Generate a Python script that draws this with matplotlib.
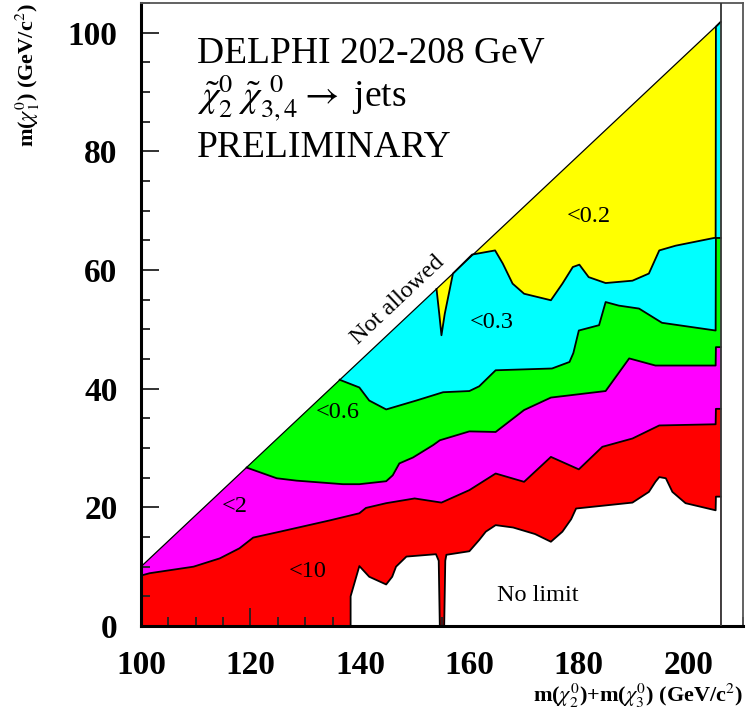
import matplotlib
matplotlib.use("Agg")
import matplotlib.pyplot as plt
from matplotlib.ticker import MultipleLocator
import numpy as np

plt.rcParams['font.family'] = ['Liberation Serif', 'DejaVu Serif']
plt.rcParams['mathtext.fontset'] = 'stix'

# kinematic limit (diagonal) and right edge of the scan
diag_x = [100.0, 205.9]
diag_y = [10.0, 101.8]
x_edge = 205.9

# upper boundaries of each cross-section band (pb)
red_x = [100.0, 101.6, 109.6, 114.4, 118.0, 120.5, 125.4, 134.5, 139.9, 141.1, 144.8,
         150.0, 154.9, 160.0, 164.8, 170.0, 174.9, 180.0, 184.3, 189.8, 194.7, 205.0,
         205.05, 205.9]
red_y = [8.5, 8.9, 10.0, 11.4, 13.1, 14.9, 15.9, 17.8, 19.0, 19.9, 20.7,
         21.5, 20.8, 22.9, 25.7, 24.3, 28.5, 26.4, 30.2, 31.6, 33.8, 34.0,
         36.6, 36.6]

mag_x = [119.3, 124.8, 128.4, 136.9, 139.9, 144.8, 146.0, 147.2, 149.7, 153.4, 154.6,
         160.0, 164.8, 170.0, 174.9, 184.9, 189.2, 194.0, 205.0, 205.05, 205.9]
mag_y = [26.7, 24.9, 24.5, 23.9, 23.9, 24.4, 25.4, 27.4, 28.4, 30.5, 31.3,
         32.8, 32.7, 36.4, 38.5, 39.6, 45.1, 43.9, 43.9, 47.0, 47.0]

green_x = [136.3, 139.9, 141.7, 144.8, 150.3, 155.2, 160.0, 161.8, 164.8, 175.1, 178.3,
           179.0, 180.0, 183.7, 184.9, 187.3, 191.0, 195.2, 205.0, 205.05, 205.9]
green_y = [41.5, 40.2, 38.0, 36.5, 38.0, 39.4, 39.6, 40.4, 43.1, 43.4, 44.5,
           46.0, 49.8, 50.7, 54.6, 54.0, 53.5, 51.1, 49.8, 65.4, 65.4]

cyan_x = [154.0, 154.5, 154.9, 155.5, 157.0, 160.5, 164.7, 166.1, 167.9, 170.0, 174.9,
          177.0, 178.9, 180.1, 181.8, 184.9, 189.8, 192.8, 194.7, 197.7, 204.7, 205.0,
          205.05, 205.9]
cyan_y = [56.8, 52.6, 49.0, 52.6, 59.4, 62.6, 63.3, 61.1, 57.7, 56.0, 54.9,
          57.7, 60.5, 60.9, 58.8, 57.8, 58.2, 59.4, 63.3, 64.1, 65.4, 65.4,
          101.0, 101.8]

# "No limit" region (top boundary, with the thin spike at ~155)
white_x = [138.3, 138.3, 139.9, 141.7, 144.8, 145.9, 146.6, 148.5, 153.9, 154.4, 154.6,
           155.4, 155.6, 155.8, 160.0, 161.8, 163.0, 164.8, 168.0, 172.0, 174.9, 177.0,
           178.6, 179.5, 189.8, 192.8, 194.0, 194.7, 195.9, 197.1, 199.5, 205.0, 205.05,
           205.9]
white_y = [0.0, 5.0, 10.1, 8.3, 7.0, 8.3, 10.0, 11.7, 12.1, 11.0, 0.0,
           0.0, 11.0, 12.0, 12.6, 14.5, 15.9, 17.0, 16.6, 15.5, 14.2, 15.9,
           18.0, 19.8, 20.8, 22.6, 24.3, 25.1, 24.9, 22.6, 20.7, 19.5, 21.8,
           21.8]

bands = [
    ('#ffff00', diag_x, diag_y),
    ('#00ffff', cyan_x, cyan_y),
    ('#00ff00', green_x, green_y),
    ('#ff00ff', mag_x, mag_y),
    ('#ff0000', red_x, red_y),
]

band_labels = ['<0.2', '<0.3', '<0.6', '<2', '<10']
label_x = [181.9, 164.0, 136.0, 117.1, 130.5]
label_y = [69.1, 51.1, 36.0, 20.1, 9.2]

fig = plt.figure(figsize=(7.47, 7.2), dpi=100)
ax = fig.add_axes([141 / 747, 1 - 626 / 720, 602 / 747, 623 / 720])

for color, bx, by in bands:
    px = [100.0] + list(bx) + [x_edge, 100.0]
    py = [10.0] + list(by) + [0.0, 0.0]
    if bx[0] == 100.0:
        px = list(bx) + [x_edge, 100.0]
        py = list(by) + [0.0, 0.0]
    ax.fill(px, py, color=color, lw=0, zorder=1)
    if color != '#ffff00':
        ax.plot(bx, by, color='black', lw=1.3, zorder=3)

ax.fill(white_x + [white_x[-1]], white_y + [0.0], color='white', lw=0, zorder=2)
ax.plot(white_x, white_y, color='black', lw=1.3, zorder=3)

ax.plot(diag_x, diag_y, color='black', lw=0.9, zorder=4)
ax.axvline(x_edge, color='#333333', lw=1.3, zorder=4)

for t, tx, ty in zip(band_labels, label_x, label_y):
    ax.text(tx, ty, t, fontsize=17.5, ha='center', va='center', zorder=5)

ax.text(172.5, 5.2, 'No limit', fontsize=17.5, ha='center', va='center', zorder=5)
ax.text(147.0, 55.0, 'Not allowed', fontsize=17.5, ha='center', va='center',
        rotation=43.2, rotation_mode='anchor', zorder=5)

ax.text(110.2, 94.9, 'DELPHI 202-208 GeV', fontsize=27, va='baseline')
ax.text(110.2, 87.4, r'$\tilde{\chi}_2^0\ \tilde{\chi}_{3,4}^{\,\,\,0}\rightarrow$ jets',
        fontsize=27, va='baseline')
ax.text(110.2, 79.1, 'PRELIMINARY', fontsize=27, va='baseline')

ax.set_xlim(100, 210)
ax.set_ylim(0, 105)
ax.xaxis.set_major_locator(MultipleLocator(20))
ax.xaxis.set_minor_locator(MultipleLocator(5))
ax.yaxis.set_major_locator(MultipleLocator(20))
ax.yaxis.set_minor_locator(MultipleLocator(5))
ax.tick_params(which='both', direction='in', top=False, right=False, width=1.3, color='#222222')
ax.tick_params(which='major', length=13, pad=17, labelsize=24)
ax.tick_params(which='minor', length=6.5)
for lab in ax.get_xticklabels() + ax.get_yticklabels():
    lab.set_fontweight('bold')

for s in ['left', 'bottom']:
    ax.spines[s].set_linewidth(2.2)
    ax.spines[s].set_color('black')
for s in ['top', 'right']:
    ax.spines[s].set_linewidth(1.3)
    ax.spines[s].set_color('#555555')

fig.text(743 / 747, 1 - 696 / 720, r'm($\chi_2^0$)+m($\chi_3^0$) (GeV/c$^2$)',
         fontsize=16, fontweight='bold', ha='right', va='center')
fig.text(28 / 747, 1 - 3 / 720, r'm($\chi_1^0$) (GeV/c$^2$)',
         fontsize=16, fontweight='bold', ha='center', va='top', rotation=90)

fig.savefig('out.png', dpi=100)
